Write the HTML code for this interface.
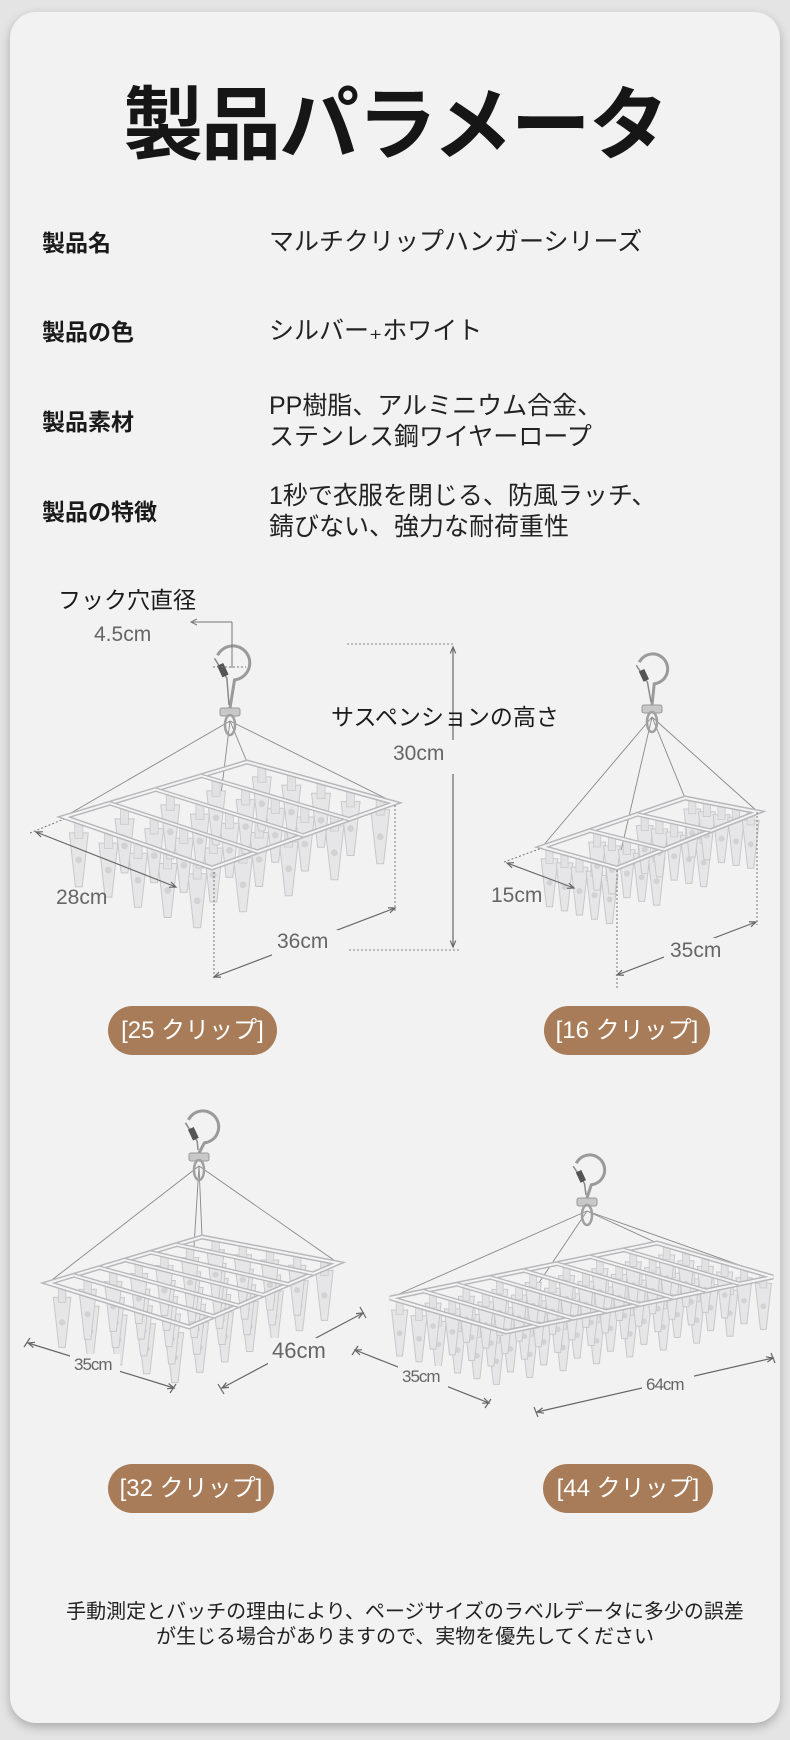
<!DOCTYPE html>
<html><head><meta charset="utf-8">
<style>
html,body{margin:0;padding:0;}
body{width:790px;height:1740px;background:#e4e4e4;position:relative;overflow:hidden;font-family:"Liberation Sans","Noto Sans CJK JP",sans-serif;color:#1a1a1a;}
.card{position:absolute;left:10px;top:12px;width:770px;height:1711px;background:#f2f2f2;border-radius:26px;box-shadow:0 4px 10px rgba(0,0,0,0.25);}
.t{position:absolute;white-space:nowrap;line-height:1;}
.title{left:0;width:790px;top:86px;text-align:center;font-size:80px;font-weight:bold;letter-spacing:-2px;color:#161616;}
.lab{left:42px;font-size:23px;font-weight:bold;}
.val{left:269px;font-size:25px;color:#222;}
.pill{position:absolute;background:#a87c58;color:#fff;border-radius:25px;height:49px;line-height:49px;text-align:center;font-size:24px;}
.g{color:#666;font-size:21px;}
svg{position:absolute;left:0;top:0;}
</style></head><body>
<div class="card"></div>
<div class="t title">製品パラメータ</div>
<div class="t lab" style="top:232px">製品名</div>
<div class="t val" style="top:230px">マルチクリップハンガーシリーズ</div>
<div class="t lab" style="top:321px">製品の色</div>
<div class="t val" style="top:319px">シルバー₊ホワイト</div>
<div class="t lab" style="top:411px">製品素材</div>
<div class="t val" style="top:394px">PP樹脂、アルミニウム合金、</div>
<div class="t val" style="top:425px">ステンレス鋼ワイヤーロープ</div>
<div class="t lab" style="top:501px">製品の特徴</div>
<div class="t val" style="top:484px">1秒で衣服を閉じる、防風ラッチ、</div>
<div class="t val" style="top:515px">錆びない、強力な耐荷重性</div>

<svg id="s" width="790" height="1740" viewBox="0 0 790 1740"></svg>

<div class="t" style="left:58px;top:589px;font-size:23px;">フック穴直径</div>
<div class="t g" style="left:94px;top:624px;">4.5cm</div>
<div class="t" style="left:331px;top:706px;font-size:23px;">サスペンションの高さ</div>
<div class="t g" style="left:393px;top:743px;">30cm</div>
<div class="t g" style="left:56px;top:887px;">28cm</div>
<div class="t g" style="left:277px;top:931px;">36cm</div>
<div class="t g" style="left:491px;top:885px;">15cm</div>
<div class="t g" style="left:670px;top:940px;">35cm</div>
<div class="t g" style="left:74px;top:1356px;font-size:17px;letter-spacing:-1px;">35cm</div>
<div class="t g" style="left:272px;top:1340px;font-size:22px;">46cm</div>
<div class="t g" style="left:402px;top:1368px;font-size:17px;letter-spacing:-1px;">35cm</div>
<div class="t g" style="left:646px;top:1376px;font-size:17px;letter-spacing:-1px;">64cm</div>

<div class="pill" style="left:108px;top:1006px;width:169px;">[25 クリップ]</div>
<div class="pill" style="left:544px;top:1006px;width:166px;">[16 クリップ]</div>
<div class="pill" style="left:108px;top:1464px;width:166px;">[32 クリップ]</div>
<div class="pill" style="left:543px;top:1464px;width:170px;">[44 クリップ]</div>

<div class="t" style="left:0;width:810px;text-align:center;top:1602px;font-size:20px;color:#222;">手動測定とバッチの理由により、ページサイズのラベルデータに多少の誤差</div>
<div class="t" style="left:0;width:810px;text-align:center;top:1627px;font-size:20px;color:#222;">が生じる場合がありますので、実物を優先してください</div>

<script>
var s=document.getElementById('s'),h='';
function ln(x1,y1,x2,y2,c,w,d){h+='<line x1="'+x1+'" y1="'+y1+'" x2="'+x2+'" y2="'+y2+'" stroke="'+(c||'#777')+'" stroke-width="'+(w||1)+'"'+(d?' stroke-dasharray="'+d+'"':'')+'/>';}
function arrow(x1,y1,x2,y2){ln(x1,y1,x2,y2,'#666',1.2);
 [[x1,y1,x2,y2],[x2,y2,x1,y1]].forEach(function(p){var a=Math.atan2(p[1]-p[3],p[0]-p[2]);var L=7;
 h+='<polyline points="'+(p[2]+L*Math.cos(a+0.4))+','+(p[3]+L*Math.sin(a+0.4))+' '+p[2]+','+p[3]+' '+(p[2]+L*Math.cos(a-0.4))+','+(p[3]+L*Math.sin(a-0.4))+'" fill="none" stroke="#666" stroke-width="1.2"/>';});}
function clip(x,y,sc){sc=sc||1;var w=7*sc,t=48*sc;
 h+='<polygon points="'+(x-w)+','+(y+8*sc)+' '+(x+w)+','+(y+8*sc)+' '+(x+2.5*sc)+','+(y+t)+' '+(x-2.5*sc)+','+(y+t)+'" fill="#e6e6e8" stroke="#c8c8ca" stroke-width="1"/>';
 h+='<rect x="'+(x-3*sc)+'" y="'+y+'" width="'+(6*sc)+'" height="'+(12*sc)+'" fill="#e2e2e4" stroke="#cacaca" stroke-width="0.8"/>';
 h+='<circle cx="'+x+'" cy="'+(y+28*sc)+'" r="'+(2.5*sc)+'" fill="#d2d2d4"/>';}
function lerp(a,b,t){return [a[0]+(b[0]-a[0])*t,a[1]+(b[1]-a[1])*t];}
function hook(cx,cy,r,px,py){
 var sx=cx-r*0.85,sy=cy-r*0.45,ex=cx+r*0.15,ey=cy+r*0.99;
 h+='<path d="M'+sx+','+sy+' A'+r+','+r+' 0 1 1 '+ex+','+ey+' L'+px+','+(py-5)+'" fill="none" stroke="#9a9a9a" stroke-width="3"/>';
 h+='<path d="M'+(sx-3)+','+(sy+3)+' L'+(cx-r*0.3)+','+(cy+r*0.9)+' L'+(px-1)+','+(py-8)+'" fill="none" stroke="#8a8a8a" stroke-width="1.5"/>';
 h+='<rect x="'+(cx-r*0.75)+'" y="'+(cy+r*0.05)+'" width="'+(r*0.4)+'" height="'+(r*0.75)+'" fill="#555" transform="rotate(-25 '+(cx-r*0.55)+' '+(cy+r*0.4)+')"/>';
 h+='<rect x="'+(px-10)+'" y="'+(py-5)+'" width="20" height="8" rx="2" fill="#c8c8c8" stroke="#999"/>';
 h+='<ellipse cx="'+px+'" cy="'+(py+12)+'" rx="5" ry="10" fill="none" stroke="#a0a0a0" stroke-width="2.5"/>';}
function hanger(L,B,R,T,nb,nc,sc,P){
 [L,B,R,T].forEach(function(c){ln(P[0],P[1]+3,c[0],c[1],'#888',0.9);});
 for(var i=0;i<=nb+1;i++){var a=lerp(L,T,i/(nb+1)),b=lerp(B,R,i/(nb+1));
  for(var j=0;j<nc;j++){var p=lerp(a,b,(j+0.5)/nc);clip(p[0],p[1],sc);}}
 var fr='M'+L+' L'+B+' L'+R+' L'+T+' Z';
 h+='<path d="'+fr+'" fill="none" stroke="#b8b8bc" stroke-width="5"/>';
 h+='<path d="'+fr+'" fill="none" stroke="#f4f4f4" stroke-width="2"/>';
 for(var i=1;i<=nb;i++){var a=lerp(L,T,i/(nb+1)),b=lerp(B,R,i/(nb+1));
  ln(a[0],a[1],b[0],b[1],'#b8b8bc',4.5);ln(a[0],a[1],b[0],b[1],'#f4f4f4',1.8);}
}
hanger([64,817],[212,868],[395,803],[247,762],3,5,1.35,[230,718]);
hook(232,663,17,230,713);
hanger([542,847],[617,868],[758,812],[685,798],2,5,1.2,[652,714]);
hook(652,669,15,652,710);
hanger([48,1283],[189,1327],[338,1263],[202,1237],5,5,1.25,[199,1163]);
hook(202,1127,16,199,1158);
hanger([390,1298],[506,1332],[773,1277],[657,1243],7,6,1.15,[587,1208]);
hook(589,1170,15,587,1203);

ln(232,622,232,668,'#777',1);ln(191,622,232,622,'#777',1);
h+='<polyline points="197,619 191,622 197,625" fill="none" stroke="#777"/>';
ln(213,667,246,667,'#777',1,'2,2');
ln(347,644,453,644,'#888',1,'2,2');ln(349,950,460,950,'#888',1,'2,2');
arrow(453,647,453,947);
h+='<rect x="380" y="740" width="90" height="34" fill="#f2f2f2"/>';
ln(30,833,64,819,'#777',1,'2,2');arrow(36,832,176,887);
ln(214,872,214,980,'#777',1,'2,2');ln(395,805,395,912,'#777',1,'2,2');
arrow(214,977,395,908);
h+='<rect x="272" y="930" width="66" height="26" fill="#f2f2f2"/>';
ln(504,862,542,848,'#777',1,'2,2');arrow(507,863,574,888);
ln(617,870,617,988,'#777',1,'2,2');ln(757,812,757,925,'#777',1,'2,2');
arrow(617,975,756,922);
h+='<rect x="664" y="938" width="66" height="26" fill="#f2f2f2"/>';
arrow(28,1343,174,1388);ln(24,1347,30,1338,'#666',1.2);ln(170,1393,176,1384,'#666',1.2);
h+='<rect x="70" y="1354" width="50" height="22" fill="#f2f2f2"/>';
arrow(222,1388,363,1313);ln(218,1384,224,1394,'#666',1.2);ln(360,1307,366,1318,'#666',1.2);
h+='<rect x="268" y="1338" width="66" height="28" fill="#f2f2f2"/>';
arrow(355,1350,489,1403);ln(352,1355,358,1346,'#666',1.2);ln(485,1408,491,1399,'#666',1.2);
h+='<rect x="398" y="1366" width="50" height="22" fill="#f2f2f2"/>';
arrow(537,1412,773,1358);ln(534,1407,538,1417,'#666',1.2);ln(771,1353,775,1363,'#666',1.2);
h+='<rect x="642" y="1374" width="52" height="22" fill="#f2f2f2"/>';
s.innerHTML=h;
</script>
</body></html>
